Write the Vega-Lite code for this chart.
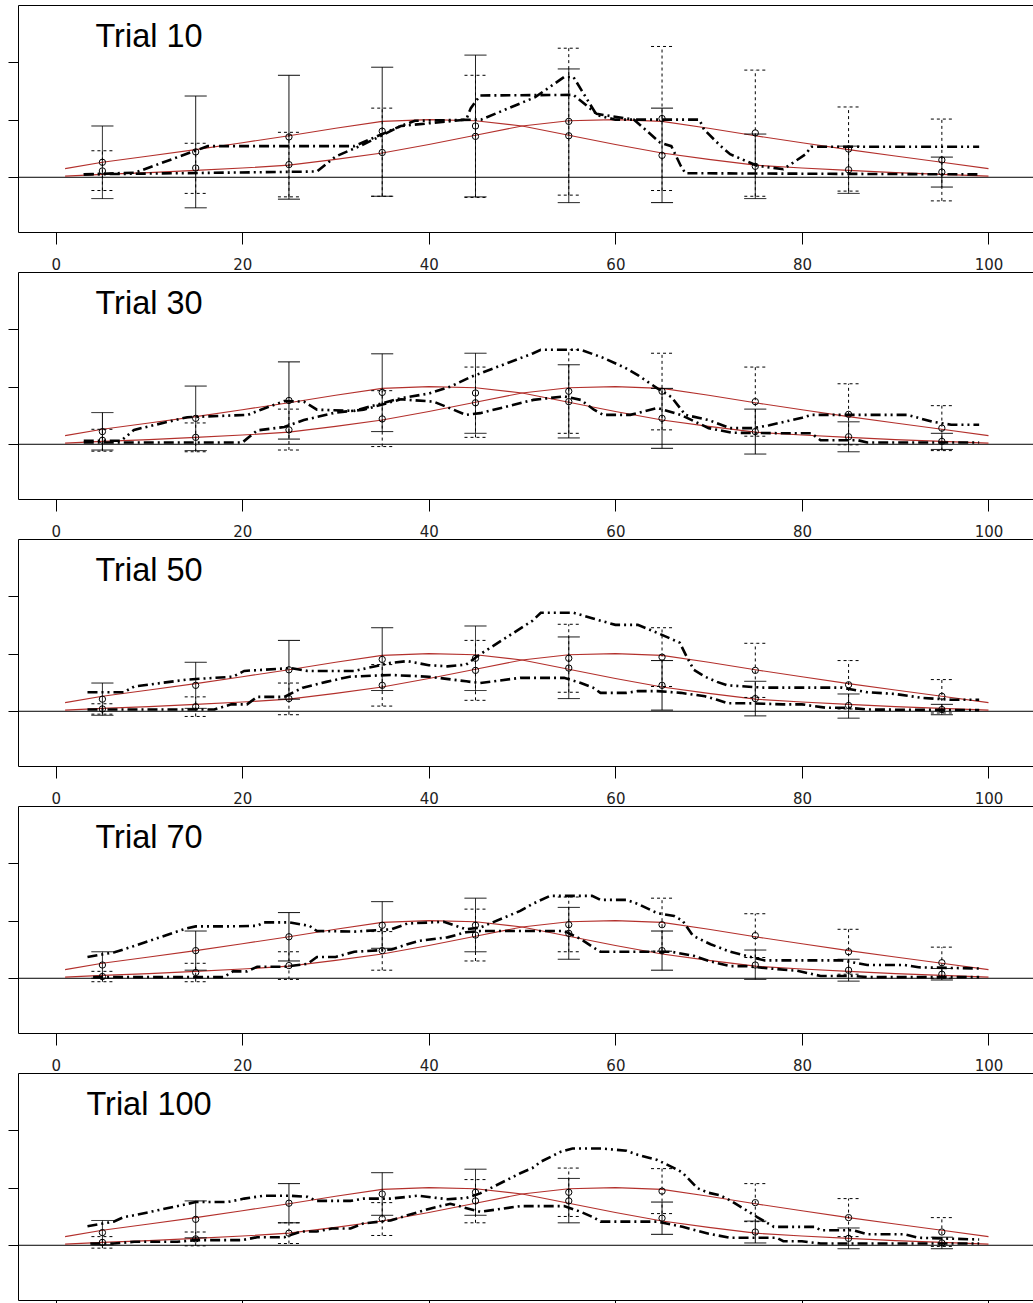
{
  "$schema": "https://vega.github.io/schema/vega-lite/v6.json",
  "padding": {"left": 7, "top": 5, "right": 0, "bottom": 0},
  "background": "white",
  "config": {"view": {"stroke": null}},
  "datasets": {
    "pred": [
      {"cond":"A","x":1,"y":0.15},{"cond":"A","x":5,"y":0.26},{"cond":"A","x":10,"y":0.37},{"cond":"A","x":15,"y":0.48},{"cond":"A","x":20,"y":0.60},{"cond":"A","x":25,"y":0.72},{"cond":"A","x":30,"y":0.85},{"cond":"A","x":35,"y":0.97},{"cond":"A","x":40,"y":1.0},{"cond":"A","x":45,"y":0.98},{"cond":"A","x":50,"y":0.89},{"cond":"A","x":55,"y":0.73},{"cond":"A","x":60,"y":0.57},{"cond":"A","x":65,"y":0.42},{"cond":"A","x":70,"y":0.31},{"cond":"A","x":75,"y":0.21},{"cond":"A","x":80,"y":0.16},{"cond":"A","x":85,"y":0.12},{"cond":"A","x":90,"y":0.08},{"cond":"A","x":95,"y":0.05},{"cond":"A","x":100,"y":0.02},
      {"cond":"B","x":1,"y":0.02},{"cond":"B","x":5,"y":0.05},{"cond":"B","x":10,"y":0.08},{"cond":"B","x":15,"y":0.12},{"cond":"B","x":20,"y":0.16},{"cond":"B","x":25,"y":0.21},{"cond":"B","x":30,"y":0.31},{"cond":"B","x":35,"y":0.42},{"cond":"B","x":40,"y":0.57},{"cond":"B","x":45,"y":0.73},{"cond":"B","x":50,"y":0.89},{"cond":"B","x":55,"y":0.98},{"cond":"B","x":60,"y":1.0},{"cond":"B","x":65,"y":0.97},{"cond":"B","x":70,"y":0.85},{"cond":"B","x":75,"y":0.72},{"cond":"B","x":80,"y":0.60},{"cond":"B","x":85,"y":0.48},{"cond":"B","x":90,"y":0.37},{"cond":"B","x":95,"y":0.26},{"cond":"B","x":100,"y":0.15}
    ],
    "obs": [
      {"trial":10,"line":"U","x":3,"y":0.05},{"trial":10,"line":"U","x":28,"y":0.1},{"trial":10,"line":"U","x":30,"y":0.36},{"trial":10,"line":"U","x":33,"y":0.57},{"trial":10,"line":"U","x":37,"y":0.89},{"trial":10,"line":"U","x":38.5,"y":0.98},{"trial":10,"line":"U","x":44.8,"y":1.0},{"trial":10,"line":"U","x":45.6,"y":1.0},{"trial":10,"line":"U","x":51.4,"y":1.39},{"trial":10,"line":"U","x":54.5,"y":1.74},{"trial":10,"line":"U","x":55.5,"y":1.74},{"trial":10,"line":"U","x":58,"y":1.08},{"trial":10,"line":"U","x":60,"y":1.0},{"trial":10,"line":"U","x":69,"y":1.0},{"trial":10,"line":"U","x":69.5,"y":0.83},{"trial":10,"line":"U","x":71.3,"y":0.54},{"trial":10,"line":"U","x":72.3,"y":0.4},{"trial":10,"line":"U","x":75.2,"y":0.2},{"trial":10,"line":"U","x":78,"y":0.14},{"trial":10,"line":"U","x":80.4,"y":0.4},{"trial":10,"line":"U","x":81,"y":0.53},{"trial":10,"line":"U","x":99,"y":0.53},
      {"trial":10,"line":"L","x":3,"y":0.05},{"trial":10,"line":"L","x":8.5,"y":0.08},{"trial":10,"line":"L","x":16.3,"y":0.54},{"trial":10,"line":"L","x":32,"y":0.54},{"trial":10,"line":"L","x":37,"y":0.89},{"trial":10,"line":"L","x":44,"y":1.0},{"trial":10,"line":"L","x":44.5,"y":1.2},{"trial":10,"line":"L","x":45.5,"y":1.42},{"trial":10,"line":"L","x":55.5,"y":1.43},{"trial":10,"line":"L","x":58,"y":1.1},{"trial":10,"line":"L","x":62,"y":1.0},{"trial":10,"line":"L","x":64.8,"y":0.6},{"trial":10,"line":"L","x":66,"y":0.54},{"trial":10,"line":"L","x":67,"y":0.2},{"trial":10,"line":"L","x":67.5,"y":0.07},{"trial":10,"line":"L","x":99,"y":0.05},
      {"trial":30,"line":"U","x":3,"y":0.06},{"trial":30,"line":"U","x":7,"y":0.06},{"trial":30,"line":"U","x":8.4,"y":0.25},{"trial":30,"line":"U","x":14.1,"y":0.47},{"trial":30,"line":"U","x":20.6,"y":0.51},{"trial":30,"line":"U","x":22,"y":0.6},{"trial":30,"line":"U","x":24.5,"y":0.75},{"trial":30,"line":"U","x":26.6,"y":0.74},{"trial":30,"line":"U","x":28,"y":0.6},{"trial":30,"line":"U","x":32,"y":0.58},{"trial":30,"line":"U","x":37,"y":0.8},{"trial":30,"line":"U","x":40,"y":0.88},{"trial":30,"line":"U","x":42.3,"y":1.0},{"trial":30,"line":"U","x":44.5,"y":1.17},{"trial":30,"line":"U","x":45.5,"y":1.23},{"trial":30,"line":"U","x":51.2,"y":1.58},{"trial":30,"line":"U","x":52,"y":1.64},{"trial":30,"line":"U","x":56.3,"y":1.64},{"trial":30,"line":"U","x":58.7,"y":1.5},{"trial":30,"line":"U","x":61,"y":1.33},{"trial":30,"line":"U","x":62.4,"y":1.2},{"trial":30,"line":"U","x":64.5,"y":0.97},{"trial":30,"line":"U","x":66,"y":0.82},{"trial":30,"line":"U","x":67.5,"y":0.51},{"trial":30,"line":"U","x":70,"y":0.42},{"trial":30,"line":"U","x":72.3,"y":0.28},{"trial":30,"line":"U","x":74.8,"y":0.28},{"trial":30,"line":"U","x":76.5,"y":0.33},{"trial":30,"line":"U","x":80,"y":0.46},{"trial":30,"line":"U","x":81,"y":0.51},{"trial":30,"line":"U","x":91.3,"y":0.51},{"trial":30,"line":"U","x":94,"y":0.39},{"trial":30,"line":"U","x":96,"y":0.34},{"trial":30,"line":"U","x":99,"y":0.34},
      {"trial":30,"line":"L","x":3,"y":0.03},{"trial":30,"line":"L","x":20,"y":0.03},{"trial":30,"line":"L","x":21.6,"y":0.24},{"trial":30,"line":"L","x":24.5,"y":0.3},{"trial":30,"line":"L","x":26.6,"y":0.42},{"trial":30,"line":"L","x":30,"y":0.55},{"trial":30,"line":"L","x":33,"y":0.6},{"trial":30,"line":"L","x":37,"y":0.78},{"trial":30,"line":"L","x":40.5,"y":0.74},{"trial":30,"line":"L","x":44,"y":0.51},{"trial":30,"line":"L","x":45.5,"y":0.54},{"trial":30,"line":"L","x":51.2,"y":0.77},{"trial":30,"line":"L","x":54.5,"y":0.83},{"trial":30,"line":"L","x":56.3,"y":0.77},{"trial":30,"line":"L","x":57.7,"y":0.6},{"trial":30,"line":"L","x":58.7,"y":0.51},{"trial":30,"line":"L","x":61.6,"y":0.51},{"trial":30,"line":"L","x":64.5,"y":0.63},{"trial":30,"line":"L","x":67,"y":0.51},{"trial":30,"line":"L","x":70,"y":0.28},{"trial":30,"line":"L","x":72.5,"y":0.2},{"trial":30,"line":"L","x":78.8,"y":0.19},{"trial":30,"line":"L","x":81,"y":0.19},{"trial":30,"line":"L","x":82,"y":0.07},{"trial":30,"line":"L","x":86,"y":0.07},{"trial":30,"line":"L","x":87,"y":0.03},{"trial":30,"line":"L","x":99,"y":0.03},
      {"trial":50,"line":"U","x":3.4,"y":0.33},{"trial":50,"line":"U","x":7.3,"y":0.33},{"trial":50,"line":"U","x":8.4,"y":0.43},{"trial":50,"line":"U","x":14.1,"y":0.55},{"trial":50,"line":"U","x":19,"y":0.6},{"trial":50,"line":"U","x":20.2,"y":0.7},{"trial":50,"line":"U","x":25.2,"y":0.75},{"trial":50,"line":"U","x":27,"y":0.7},{"trial":50,"line":"U","x":32,"y":0.7},{"trial":50,"line":"U","x":35.9,"y":0.84},{"trial":50,"line":"U","x":37.7,"y":0.87},{"trial":50,"line":"U","x":40,"y":0.8},{"trial":50,"line":"U","x":42,"y":0.78},{"trial":50,"line":"U","x":44,"y":0.81},{"trial":50,"line":"U","x":45.5,"y":0.99},{"trial":50,"line":"U","x":51.1,"y":1.57},{"trial":50,"line":"U","x":52,"y":1.71},{"trial":50,"line":"U","x":55.5,"y":1.71},{"trial":50,"line":"U","x":57.6,"y":1.61},{"trial":50,"line":"U","x":60,"y":1.5},{"trial":50,"line":"U","x":62.4,"y":1.5},{"trial":50,"line":"U","x":64.5,"y":1.36},{"trial":50,"line":"U","x":66.9,"y":1.19},{"trial":50,"line":"U","x":67.6,"y":0.96},{"trial":50,"line":"U","x":68.4,"y":0.72},{"trial":50,"line":"U","x":69.6,"y":0.6},{"trial":50,"line":"U","x":70.9,"y":0.51},{"trial":50,"line":"U","x":72,"y":0.45},{"trial":50,"line":"U","x":75.9,"y":0.41},{"trial":50,"line":"U","x":84.3,"y":0.41},{"trial":50,"line":"U","x":87,"y":0.33},{"trial":50,"line":"U","x":90,"y":0.3},{"trial":50,"line":"U","x":93,"y":0.23},{"trial":50,"line":"U","x":96,"y":0.2},{"trial":50,"line":"U","x":99,"y":0.2},
      {"trial":50,"line":"L","x":3.4,"y":0.03},{"trial":50,"line":"L","x":17,"y":0.03},{"trial":50,"line":"L","x":18.8,"y":0.12},{"trial":50,"line":"L","x":20.5,"y":0.12},{"trial":50,"line":"L","x":21.6,"y":0.25},{"trial":50,"line":"L","x":24.5,"y":0.25},{"trial":50,"line":"L","x":26.5,"y":0.41},{"trial":50,"line":"L","x":29,"y":0.51},{"trial":50,"line":"L","x":31.5,"y":0.6},{"trial":50,"line":"L","x":35.9,"y":0.63},{"trial":50,"line":"L","x":40,"y":0.6},{"trial":50,"line":"L","x":44,"y":0.52},{"trial":50,"line":"L","x":45.5,"y":0.49},{"trial":50,"line":"L","x":49.8,"y":0.58},{"trial":50,"line":"L","x":54.5,"y":0.58},{"trial":50,"line":"L","x":56.3,"y":0.49},{"trial":50,"line":"L","x":57.6,"y":0.41},{"trial":50,"line":"L","x":58.4,"y":0.32},{"trial":50,"line":"L","x":61.2,"y":0.32},{"trial":50,"line":"L","x":62.4,"y":0.35},{"trial":50,"line":"L","x":64.5,"y":0.35},{"trial":50,"line":"L","x":67,"y":0.32},{"trial":50,"line":"L","x":69.6,"y":0.26},{"trial":50,"line":"L","x":70.9,"y":0.2},{"trial":50,"line":"L","x":72,"y":0.14},{"trial":50,"line":"L","x":74,"y":0.14},{"trial":50,"line":"L","x":78,"y":0.12},{"trial":50,"line":"L","x":80,"y":0.12},{"trial":50,"line":"L","x":82.6,"y":0.06},{"trial":50,"line":"L","x":85,"y":0.06},{"trial":50,"line":"L","x":87,"y":0.03},{"trial":50,"line":"L","x":99,"y":0.02},
      {"trial":70,"line":"U","x":3.4,"y":0.37},{"trial":70,"line":"U","x":6.3,"y":0.45},{"trial":70,"line":"U","x":8.4,"y":0.56},{"trial":70,"line":"U","x":13.9,"y":0.86},{"trial":70,"line":"U","x":15,"y":0.9},{"trial":70,"line":"U","x":18.4,"y":0.9},{"trial":70,"line":"U","x":21.6,"y":0.91},{"trial":70,"line":"U","x":22.3,"y":0.97},{"trial":70,"line":"U","x":25,"y":0.97},{"trial":70,"line":"U","x":27.2,"y":0.91},{"trial":70,"line":"U","x":28,"y":0.82},{"trial":70,"line":"U","x":32,"y":0.81},{"trial":70,"line":"U","x":36,"y":0.85},{"trial":70,"line":"U","x":37.7,"y":0.95},{"trial":70,"line":"U","x":41.6,"y":0.98},{"trial":70,"line":"U","x":44,"y":0.85},{"trial":70,"line":"U","x":45.5,"y":0.88},{"trial":70,"line":"U","x":49.8,"y":1.17},{"trial":70,"line":"U","x":51.1,"y":1.29},{"trial":70,"line":"U","x":53,"y":1.43},{"trial":70,"line":"U","x":57.5,"y":1.43},{"trial":70,"line":"U","x":58.4,"y":1.36},{"trial":70,"line":"U","x":61.2,"y":1.36},{"trial":70,"line":"U","x":62.4,"y":1.29},{"trial":70,"line":"U","x":64.5,"y":1.13},{"trial":70,"line":"U","x":66.3,"y":1.08},{"trial":70,"line":"U","x":67.2,"y":1.0},{"trial":70,"line":"U","x":68.3,"y":0.74},{"trial":70,"line":"U","x":70.2,"y":0.59},{"trial":70,"line":"U","x":71.2,"y":0.53},{"trial":70,"line":"U","x":72.3,"y":0.46},{"trial":70,"line":"U","x":74,"y":0.39},{"trial":70,"line":"U","x":76,"y":0.31},{"trial":70,"line":"U","x":84.3,"y":0.31},{"trial":70,"line":"U","x":87,"y":0.23},{"trial":70,"line":"U","x":91,"y":0.23},{"trial":70,"line":"U","x":92.5,"y":0.19},{"trial":70,"line":"U","x":99,"y":0.17},
      {"trial":70,"line":"L","x":4,"y":0.02},{"trial":70,"line":"L","x":18,"y":0.02},{"trial":70,"line":"L","x":19,"y":0.12},{"trial":70,"line":"L","x":20.5,"y":0.12},{"trial":70,"line":"L","x":21.6,"y":0.2},{"trial":70,"line":"L","x":24.5,"y":0.2},{"trial":70,"line":"L","x":27,"y":0.25},{"trial":70,"line":"L","x":28,"y":0.37},{"trial":70,"line":"L","x":30,"y":0.37},{"trial":70,"line":"L","x":32,"y":0.46},{"trial":70,"line":"L","x":36,"y":0.5},{"trial":70,"line":"L","x":37.7,"y":0.59},{"trial":70,"line":"L","x":39,"y":0.65},{"trial":70,"line":"L","x":42,"y":0.71},{"trial":70,"line":"L","x":44,"y":0.8},{"trial":70,"line":"L","x":45.5,"y":0.82},{"trial":70,"line":"L","x":54.5,"y":0.82},{"trial":70,"line":"L","x":56.3,"y":0.68},{"trial":70,"line":"L","x":57.7,"y":0.53},{"trial":70,"line":"L","x":58.4,"y":0.46},{"trial":70,"line":"L","x":66,"y":0.46},{"trial":70,"line":"L","x":68.4,"y":0.39},{"trial":70,"line":"L","x":70,"y":0.3},{"trial":70,"line":"L","x":72.3,"y":0.21},{"trial":70,"line":"L","x":74,"y":0.21},{"trial":70,"line":"L","x":76.5,"y":0.17},{"trial":70,"line":"L","x":79.5,"y":0.13},{"trial":70,"line":"L","x":82,"y":0.04},{"trial":70,"line":"L","x":85.5,"y":0.04},{"trial":70,"line":"L","x":87,"y":0.02},{"trial":70,"line":"L","x":99,"y":0.02},
      {"trial":100,"line":"U","x":3.4,"y":0.33},{"trial":100,"line":"U","x":6.2,"y":0.41},{"trial":100,"line":"U","x":7.3,"y":0.49},{"trial":100,"line":"U","x":8.4,"y":0.52},{"trial":100,"line":"U","x":13.9,"y":0.71},{"trial":100,"line":"U","x":15,"y":0.75},{"trial":100,"line":"U","x":18.4,"y":0.75},{"trial":100,"line":"U","x":20.2,"y":0.81},{"trial":100,"line":"U","x":22.3,"y":0.86},{"trial":100,"line":"U","x":25,"y":0.86},{"trial":100,"line":"U","x":27,"y":0.84},{"trial":100,"line":"U","x":28,"y":0.77},{"trial":100,"line":"U","x":31.6,"y":0.77},{"trial":100,"line":"U","x":33,"y":0.81},{"trial":100,"line":"U","x":35.9,"y":0.81},{"trial":100,"line":"U","x":38.8,"y":0.86},{"trial":100,"line":"U","x":42,"y":0.8},{"trial":100,"line":"U","x":44,"y":0.82},{"trial":100,"line":"U","x":45.5,"y":0.9},{"trial":100,"line":"U","x":49.8,"y":1.25},{"trial":100,"line":"U","x":51.1,"y":1.34},{"trial":100,"line":"U","x":52,"y":1.45},{"trial":100,"line":"U","x":54.1,"y":1.62},{"trial":100,"line":"U","x":55.4,"y":1.68},{"trial":100,"line":"U","x":58.5,"y":1.68},{"trial":100,"line":"U","x":61.2,"y":1.64},{"trial":100,"line":"U","x":62.4,"y":1.57},{"trial":100,"line":"U","x":64.5,"y":1.48},{"trial":100,"line":"U","x":66.3,"y":1.34},{"trial":100,"line":"U","x":67.2,"y":1.26},{"trial":100,"line":"U","x":68.8,"y":0.99},{"trial":100,"line":"U","x":70,"y":0.91},{"trial":100,"line":"U","x":71.2,"y":0.87},{"trial":100,"line":"U","x":72.3,"y":0.78},{"trial":100,"line":"U","x":75.2,"y":0.49},{"trial":100,"line":"U","x":77,"y":0.32},{"trial":100,"line":"U","x":81.4,"y":0.32},{"trial":100,"line":"U","x":82,"y":0.26},{"trial":100,"line":"U","x":85.5,"y":0.26},{"trial":100,"line":"U","x":87,"y":0.19},{"trial":100,"line":"U","x":91,"y":0.19},{"trial":100,"line":"U","x":92.5,"y":0.13},{"trial":100,"line":"U","x":99,"y":0.1},
      {"trial":100,"line":"L","x":3.7,"y":0.03},{"trial":100,"line":"L","x":6.2,"y":0.03},{"trial":100,"line":"L","x":8.4,"y":0.06},{"trial":100,"line":"L","x":13,"y":0.06},{"trial":100,"line":"L","x":15,"y":0.09},{"trial":100,"line":"L","x":20,"y":0.09},{"trial":100,"line":"L","x":21.6,"y":0.14},{"trial":100,"line":"L","x":24.5,"y":0.14},{"trial":100,"line":"L","x":26.3,"y":0.24},{"trial":100,"line":"L","x":28,"y":0.24},{"trial":100,"line":"L","x":29.6,"y":0.29},{"trial":100,"line":"L","x":31.6,"y":0.29},{"trial":100,"line":"L","x":33,"y":0.38},{"trial":100,"line":"L","x":35.9,"y":0.43},{"trial":100,"line":"L","x":37.7,"y":0.52},{"trial":100,"line":"L","x":40.2,"y":0.64},{"trial":100,"line":"L","x":42.3,"y":0.72},{"trial":100,"line":"L","x":45.5,"y":0.58},{"trial":100,"line":"L","x":49.8,"y":0.68},{"trial":100,"line":"L","x":54.5,"y":0.68},{"trial":100,"line":"L","x":56.3,"y":0.58},{"trial":100,"line":"L","x":57.7,"y":0.48},{"trial":100,"line":"L","x":58.4,"y":0.41},{"trial":100,"line":"L","x":64.5,"y":0.41},{"trial":100,"line":"L","x":67.2,"y":0.32},{"trial":100,"line":"L","x":70,"y":0.2},{"trial":100,"line":"L","x":72.3,"y":0.13},{"trial":100,"line":"L","x":77.3,"y":0.13},{"trial":100,"line":"L","x":78,"y":0.07},{"trial":100,"line":"L","x":80,"y":0.07},{"trial":100,"line":"L","x":82,"y":0.03},{"trial":100,"line":"L","x":99,"y":0.03}
    ],
    "bars": [
      {"trial":10,"cond":"A","x":5,"mean":0.26,"lo":-0.37,"hi":0.89},{"trial":10,"cond":"A","x":15,"mean":0.44,"lo":-0.53,"hi":1.41},{"trial":10,"cond":"A","x":25,"mean":0.70,"lo":-0.38,"hi":1.77},{"trial":10,"cond":"A","x":35,"mean":0.80,"lo":-0.33,"hi":1.91},{"trial":10,"cond":"A","x":45,"mean":0.89,"lo":-0.34,"hi":2.12},{"trial":10,"cond":"A","x":55,"mean":0.72,"lo":-0.44,"hi":1.88},{"trial":10,"cond":"A","x":65,"mean":0.38,"lo":-0.44,"hi":1.20},{"trial":10,"cond":"A","x":75,"mean":0.19,"lo":-0.37,"hi":0.75},{"trial":10,"cond":"A","x":85,"mean":0.13,"lo":-0.28,"hi":0.54},{"trial":10,"cond":"A","x":95,"mean":0.09,"lo":-0.17,"hi":0.35},
      {"trial":10,"cond":"B","x":5,"mean":0.11,"lo":-0.23,"hi":0.46},{"trial":10,"cond":"B","x":15,"mean":0.16,"lo":-0.28,"hi":0.59},{"trial":10,"cond":"B","x":25,"mean":0.22,"lo":-0.34,"hi":0.78},{"trial":10,"cond":"B","x":35,"mean":0.43,"lo":-0.33,"hi":1.20},{"trial":10,"cond":"B","x":45,"mean":0.71,"lo":-0.35,"hi":1.77},{"trial":10,"cond":"B","x":55,"mean":0.97,"lo":-0.31,"hi":2.24},{"trial":10,"cond":"B","x":65,"mean":1.02,"lo":-0.23,"hi":2.27},{"trial":10,"cond":"B","x":75,"mean":0.77,"lo":-0.33,"hi":1.86},{"trial":10,"cond":"B","x":85,"mean":0.49,"lo":-0.24,"hi":1.22},{"trial":10,"cond":"B","x":95,"mean":0.30,"lo":-0.41,"hi":1.01},
      {"trial":30,"cond":"A","x":5,"mean":0.22,"lo":-0.10,"hi":0.55},{"trial":30,"cond":"A","x":15,"mean":0.45,"lo":-0.11,"hi":1.01},{"trial":30,"cond":"A","x":25,"mean":0.76,"lo":0.09,"hi":1.43},{"trial":30,"cond":"A","x":35,"mean":0.90,"lo":0.22,"hi":1.57},{"trial":30,"cond":"A","x":45,"mean":0.89,"lo":0.19,"hi":1.58},{"trial":30,"cond":"A","x":55,"mean":0.74,"lo":0.11,"hi":1.38},{"trial":30,"cond":"A","x":65,"mean":0.45,"lo":-0.07,"hi":0.97},{"trial":30,"cond":"A","x":75,"mean":0.22,"lo":-0.17,"hi":0.61},{"trial":30,"cond":"A","x":85,"mean":0.13,"lo":-0.13,"hi":0.39},{"trial":30,"cond":"A","x":95,"mean":0.05,"lo":-0.09,"hi":0.19},
      {"trial":30,"cond":"B","x":5,"mean":0.07,"lo":-0.12,"hi":0.26},{"trial":30,"cond":"B","x":15,"mean":0.12,"lo":-0.13,"hi":0.37},{"trial":30,"cond":"B","x":25,"mean":0.25,"lo":-0.10,"hi":0.61},{"trial":30,"cond":"B","x":35,"mean":0.44,"lo":-0.04,"hi":0.93},{"trial":30,"cond":"B","x":45,"mean":0.72,"lo":0.12,"hi":1.34},{"trial":30,"cond":"B","x":55,"mean":0.92,"lo":0.19,"hi":1.64},{"trial":30,"cond":"B","x":65,"mean":0.92,"lo":0.25,"hi":1.58},{"trial":30,"cond":"B","x":75,"mean":0.74,"lo":0.14,"hi":1.34},{"trial":30,"cond":"B","x":85,"mean":0.52,"lo":-0.01,"hi":1.05},{"trial":30,"cond":"B","x":95,"mean":0.28,"lo":-0.11,"hi":0.67},
      {"trial":50,"cond":"A","x":5,"mean":0.21,"lo":-0.07,"hi":0.49},{"trial":50,"cond":"A","x":15,"mean":0.45,"lo":0.05,"hi":0.85},{"trial":50,"cond":"A","x":25,"mean":0.72,"lo":0.21,"hi":1.23},{"trial":50,"cond":"A","x":35,"mean":0.90,"lo":0.36,"hi":1.45},{"trial":50,"cond":"A","x":45,"mean":0.92,"lo":0.36,"hi":1.48},{"trial":50,"cond":"A","x":55,"mean":0.75,"lo":0.22,"hi":1.29},{"trial":50,"cond":"A","x":65,"mean":0.45,"lo":0.02,"hi":0.88},{"trial":50,"cond":"A","x":75,"mean":0.22,"lo":-0.08,"hi":0.52},{"trial":50,"cond":"A","x":85,"mean":0.10,"lo":-0.12,"hi":0.30},{"trial":50,"cond":"A","x":95,"mean":0.03,"lo":-0.06,"hi":0.12},
      {"trial":50,"cond":"B","x":5,"mean":0.04,"lo":-0.05,"hi":0.13},{"trial":50,"cond":"B","x":15,"mean":0.08,"lo":-0.09,"hi":0.25},{"trial":50,"cond":"B","x":25,"mean":0.22,"lo":-0.06,"hi":0.49},{"trial":50,"cond":"B","x":35,"mean":0.45,"lo":0.09,"hi":0.81},{"trial":50,"cond":"B","x":45,"mean":0.71,"lo":0.19,"hi":1.23},{"trial":50,"cond":"B","x":55,"mean":0.92,"lo":0.33,"hi":1.51},{"trial":50,"cond":"B","x":65,"mean":0.94,"lo":0.43,"hi":1.45},{"trial":50,"cond":"B","x":75,"mean":0.71,"lo":0.24,"hi":1.18},{"trial":50,"cond":"B","x":85,"mean":0.46,"lo":0.04,"hi":0.88},{"trial":50,"cond":"B","x":95,"mean":0.26,"lo":-0.03,"hi":0.55},
      {"trial":70,"cond":"A","x":5,"mean":0.23,"lo":0.0,"hi":0.46},{"trial":70,"cond":"A","x":15,"mean":0.48,"lo":0.14,"hi":0.82},{"trial":70,"cond":"A","x":25,"mean":0.72,"lo":0.30,"hi":1.14},{"trial":70,"cond":"A","x":35,"mean":0.92,"lo":0.52,"hi":1.33},{"trial":70,"cond":"A","x":45,"mean":0.92,"lo":0.46,"hi":1.39},{"trial":70,"cond":"A","x":55,"mean":0.78,"lo":0.33,"hi":1.23},{"trial":70,"cond":"A","x":65,"mean":0.48,"lo":0.14,"hi":0.82},{"trial":70,"cond":"A","x":75,"mean":0.23,"lo":-0.02,"hi":0.49},{"trial":70,"cond":"A","x":85,"mean":0.14,"lo":-0.05,"hi":0.33},{"trial":70,"cond":"A","x":95,"mean":0.07,"lo":-0.03,"hi":0.17},
      {"trial":70,"cond":"B","x":5,"mean":0.03,"lo":-0.06,"hi":0.12},{"trial":70,"cond":"B","x":15,"mean":0.10,"lo":-0.06,"hi":0.26},{"trial":70,"cond":"B","x":25,"mean":0.22,"lo":-0.02,"hi":0.46},{"trial":70,"cond":"B","x":35,"mean":0.48,"lo":0.14,"hi":0.81},{"trial":70,"cond":"B","x":45,"mean":0.75,"lo":0.30,"hi":1.20},{"trial":70,"cond":"B","x":55,"mean":0.93,"lo":0.46,"hi":1.41},{"trial":70,"cond":"B","x":65,"mean":0.93,"lo":0.47,"hi":1.39},{"trial":70,"cond":"B","x":75,"mean":0.74,"lo":0.36,"hi":1.12},{"trial":70,"cond":"B","x":85,"mean":0.46,"lo":0.07,"hi":0.85},{"trial":70,"cond":"B","x":95,"mean":0.27,"lo":0.0,"hi":0.54},
      {"trial":100,"cond":"A","x":5,"mean":0.22,"lo":0.01,"hi":0.43},{"trial":100,"cond":"A","x":15,"mean":0.45,"lo":0.13,"hi":0.77},{"trial":100,"cond":"A","x":25,"mean":0.73,"lo":0.39,"hi":1.07},{"trial":100,"cond":"A","x":35,"mean":0.89,"lo":0.52,"hi":1.26},{"trial":100,"cond":"A","x":45,"mean":0.92,"lo":0.52,"hi":1.32},{"trial":100,"cond":"A","x":55,"mean":0.77,"lo":0.39,"hi":1.16},{"trial":100,"cond":"A","x":65,"mean":0.47,"lo":0.19,"hi":0.75},{"trial":100,"cond":"A","x":75,"mean":0.23,"lo":0.04,"hi":0.42},{"trial":100,"cond":"A","x":85,"mean":0.12,"lo":-0.06,"hi":0.30},{"trial":100,"cond":"A","x":95,"mean":0.04,"lo":-0.06,"hi":0.14},
      {"trial":100,"cond":"B","x":5,"mean":0.05,"lo":-0.05,"hi":0.15},{"trial":100,"cond":"B","x":15,"mean":0.11,"lo":-0.01,"hi":0.23},{"trial":100,"cond":"B","x":25,"mean":0.21,"lo":0.03,"hi":0.39},{"trial":100,"cond":"B","x":35,"mean":0.46,"lo":0.17,"hi":0.74},{"trial":100,"cond":"B","x":45,"mean":0.77,"lo":0.39,"hi":1.14},{"trial":100,"cond":"B","x":55,"mean":0.92,"lo":0.50,"hi":1.34},{"trial":100,"cond":"B","x":65,"mean":0.94,"lo":0.55,"hi":1.33},{"trial":100,"cond":"B","x":75,"mean":0.74,"lo":0.41,"hi":1.07},{"trial":100,"cond":"B","x":85,"mean":0.48,"lo":0.15,"hi":0.81},{"trial":100,"cond":"B","x":95,"mean":0.23,"lo":-0.02,"hi":0.48}
    ]
  },
  "vconcat": [
    {
      "width": 1016, "height": 227,
      "resolve": {"axis": {"x": "independent"}, "scale": {"strokeDash": "independent"}},
      "layer": [
        {"data": {"values": [{}]},
         "mark": {"type": "rule", "color": "black", "strokeWidth": 1},
         "encoding": {"y": {"datum": 0, "type": "quantitative", "scale": {"domain": [-0.95, 2.99]},
           "axis": {"values": [0, 1, 2], "tickSize": 10, "labels": false, "domain": true, "domainColor": "black", "tickColor": "black", "grid": false, "title": null}}}},
        {"data": {"name": "pred"},
         "mark": {"type": "line", "color": "#b3302c", "strokeWidth": 1.1},
         "encoding": {
           "x": {"field": "x", "type": "quantitative", "scale": {"domain": [-4.05, 104.88], "nice": false, "zero": false},
             "axis": {"orient": "bottom", "values": [0, 20, 40, 60, 80, 100], "tickSize": 12, "labelPadding": 13, "labelFont": "DejaVu Sans", "labelFontSize": 15, "labelColor": "#222", "labelFlush": false, "labelOverlap": false, "domain": true, "domainColor": "black", "tickColor": "black", "grid": false, "title": null}},
           "y": {"field": "y", "type": "quantitative", "scale": {"domain": [-0.95, 2.99]},
             "axis": {"values": [0, 1, 2], "tickSize": 10, "labels": false, "domain": true, "domainColor": "black", "tickColor": "black", "grid": false, "title": null}},
           "detail": {"field": "cond"}}},
        {"data": {"name": "obs"}, "transform": [{"filter": "datum.trial == 10"}],
         "mark": {"type": "line", "color": "black", "strokeWidth": 2.6},
         "encoding": {
           "x": {"field": "x", "type": "quantitative", "scale": {"domain": [-4.05, 104.88], "nice": false, "zero": false},
             "axis": {"orient": "top", "ticks": false, "labels": false, "domain": true, "domainColor": "black", "grid": false, "title": null}},
           "y": {"field": "y", "type": "quantitative", "scale": {"domain": [-0.95, 2.99]},
             "axis": {"values": [0, 1, 2], "tickSize": 10, "labels": false, "domain": true, "domainColor": "black", "tickColor": "black", "grid": false, "title": null}},
           "strokeDash": {"field": "line", "type": "nominal", "scale": {"domain": ["U", "L"], "range": [[10, 4, 2, 4, 2, 4], [10, 4, 2, 4]]}, "legend": null}}},
        {"data": {"name": "bars"}, "transform": [{"filter": "datum.trial == 10"}],
         "layer": [
           {"mark": {"type": "rule", "color": "black", "strokeWidth": 1},
            "encoding": {"y": {"field": "lo"}, "y2": {"field": "hi"}}},
           {"mark": {"type": "point", "shape": "stroke", "size": 484, "color": "black", "strokeWidth": 1, "filled": false, "opacity": 1},
            "encoding": {"y": {"field": "lo"}}},
           {"mark": {"type": "point", "shape": "stroke", "size": 484, "color": "black", "strokeWidth": 1, "filled": false, "opacity": 1},
            "encoding": {"y": {"field": "hi"}}}
         ],
         "encoding": {
           "x": {"field": "x", "type": "quantitative", "scale": {"domain": [-4.05, 104.88], "nice": false, "zero": false}, "axis": null},
           "y": {"type": "quantitative", "scale": {"domain": [-0.95, 2.99]},
             "axis": {"values": [0, 1, 2], "tickSize": 10, "labels": false, "domain": true, "domainColor": "black", "tickColor": "black", "grid": false, "title": null}},
           "strokeDash": {"field": "cond", "type": "nominal", "scale": {"domain": ["A", "B"], "range": [[1, 0], [3, 3]]}, "legend": null}}},
        {"data": {"name": "bars"}, "transform": [{"filter": "datum.trial == 10"}],
         "mark": {"type": "point", "size": 40, "color": "black", "strokeWidth": 1, "filled": false, "opacity": 1},
         "encoding": {
           "x": {"field": "x", "type": "quantitative", "scale": {"domain": [-4.05, 104.88], "nice": false, "zero": false}, "axis": null},
           "y": {"field": "mean", "type": "quantitative", "scale": {"domain": [-0.95, 2.99]},
             "axis": {"values": [0, 1, 2], "tickSize": 10, "labels": false, "domain": true, "domainColor": "black", "tickColor": "black", "grid": false, "title": null}}}},
        {"data": {"values": [{}]},
         "mark": {"type": "text", "font": "Liberation Sans", "fontSize": 32.5, "align": "center", "baseline": "alphabetic", "color": "black"},
         "encoding": {
           "x": {"datum": 10, "type": "quantitative", "scale": {"domain": [-4.05, 104.88], "nice": false, "zero": false}, "axis": null},
           "y": {"datum": 2.26, "type": "quantitative", "scale": {"domain": [-0.95, 2.99]},
             "axis": {"values": [0, 1, 2], "tickSize": 10, "labels": false, "domain": true, "domainColor": "black", "tickColor": "black", "grid": false, "title": null}},
           "text": {"value": "Trial 10"}}}
      ]
    },
    {
      "width": 1016, "height": 227,
      "resolve": {"axis": {"x": "independent"}, "scale": {"strokeDash": "independent"}},
      "layer": [
        {"data": {"values": [{}]},
         "mark": {"type": "rule", "color": "black", "strokeWidth": 1},
         "encoding": {"y": {"datum": 0, "type": "quantitative", "scale": {"domain": [-0.95, 2.99]},
           "axis": {"values": [0, 1, 2], "tickSize": 10, "labels": false, "domain": true, "domainColor": "black", "tickColor": "black", "grid": false, "title": null}}}},
        {"data": {"name": "pred"},
         "mark": {"type": "line", "color": "#b3302c", "strokeWidth": 1.1},
         "encoding": {
           "x": {"field": "x", "type": "quantitative", "scale": {"domain": [-4.05, 104.88], "nice": false, "zero": false},
             "axis": {"orient": "bottom", "values": [0, 20, 40, 60, 80, 100], "tickSize": 12, "labelPadding": 13, "labelFont": "DejaVu Sans", "labelFontSize": 15, "labelColor": "#222", "labelFlush": false, "labelOverlap": false, "domain": true, "domainColor": "black", "tickColor": "black", "grid": false, "title": null}},
           "y": {"field": "y", "type": "quantitative", "scale": {"domain": [-0.95, 2.99]},
             "axis": {"values": [0, 1, 2], "tickSize": 10, "labels": false, "domain": true, "domainColor": "black", "tickColor": "black", "grid": false, "title": null}},
           "detail": {"field": "cond"}}},
        {"data": {"name": "obs"}, "transform": [{"filter": "datum.trial == 30"}],
         "mark": {"type": "line", "color": "black", "strokeWidth": 2.6},
         "encoding": {
           "x": {"field": "x", "type": "quantitative", "scale": {"domain": [-4.05, 104.88], "nice": false, "zero": false},
             "axis": {"orient": "top", "ticks": false, "labels": false, "domain": true, "domainColor": "black", "grid": false, "title": null}},
           "y": {"field": "y", "type": "quantitative", "scale": {"domain": [-0.95, 2.99]},
             "axis": {"values": [0, 1, 2], "tickSize": 10, "labels": false, "domain": true, "domainColor": "black", "tickColor": "black", "grid": false, "title": null}},
           "strokeDash": {"field": "line", "type": "nominal", "scale": {"domain": ["U", "L"], "range": [[10, 4, 2, 4, 2, 4], [10, 4, 2, 4]]}, "legend": null}}},
        {"data": {"name": "bars"}, "transform": [{"filter": "datum.trial == 30"}],
         "layer": [
           {"mark": {"type": "rule", "color": "black", "strokeWidth": 1},
            "encoding": {"y": {"field": "lo"}, "y2": {"field": "hi"}}},
           {"mark": {"type": "point", "shape": "stroke", "size": 484, "color": "black", "strokeWidth": 1, "filled": false, "opacity": 1},
            "encoding": {"y": {"field": "lo"}}},
           {"mark": {"type": "point", "shape": "stroke", "size": 484, "color": "black", "strokeWidth": 1, "filled": false, "opacity": 1},
            "encoding": {"y": {"field": "hi"}}}
         ],
         "encoding": {
           "x": {"field": "x", "type": "quantitative", "scale": {"domain": [-4.05, 104.88], "nice": false, "zero": false}, "axis": null},
           "y": {"type": "quantitative", "scale": {"domain": [-0.95, 2.99]},
             "axis": {"values": [0, 1, 2], "tickSize": 10, "labels": false, "domain": true, "domainColor": "black", "tickColor": "black", "grid": false, "title": null}},
           "strokeDash": {"field": "cond", "type": "nominal", "scale": {"domain": ["A", "B"], "range": [[1, 0], [3, 3]]}, "legend": null}}},
        {"data": {"name": "bars"}, "transform": [{"filter": "datum.trial == 30"}],
         "mark": {"type": "point", "size": 40, "color": "black", "strokeWidth": 1, "filled": false, "opacity": 1},
         "encoding": {
           "x": {"field": "x", "type": "quantitative", "scale": {"domain": [-4.05, 104.88], "nice": false, "zero": false}, "axis": null},
           "y": {"field": "mean", "type": "quantitative", "scale": {"domain": [-0.95, 2.99]},
             "axis": {"values": [0, 1, 2], "tickSize": 10, "labels": false, "domain": true, "domainColor": "black", "tickColor": "black", "grid": false, "title": null}}}},
        {"data": {"values": [{}]},
         "mark": {"type": "text", "font": "Liberation Sans", "fontSize": 32.5, "align": "center", "baseline": "alphabetic", "color": "black"},
         "encoding": {
           "x": {"datum": 10, "type": "quantitative", "scale": {"domain": [-4.05, 104.88], "nice": false, "zero": false}, "axis": null},
           "y": {"datum": 2.26, "type": "quantitative", "scale": {"domain": [-0.95, 2.99]},
             "axis": {"values": [0, 1, 2], "tickSize": 10, "labels": false, "domain": true, "domainColor": "black", "tickColor": "black", "grid": false, "title": null}},
           "text": {"value": "Trial 30"}}}
      ]
    },
    {
      "width": 1016, "height": 227,
      "resolve": {"axis": {"x": "independent"}, "scale": {"strokeDash": "independent"}},
      "layer": [
        {"data": {"values": [{}]},
         "mark": {"type": "rule", "color": "black", "strokeWidth": 1},
         "encoding": {"y": {"datum": 0, "type": "quantitative", "scale": {"domain": [-0.95, 2.99]},
           "axis": {"values": [0, 1, 2], "tickSize": 10, "labels": false, "domain": true, "domainColor": "black", "tickColor": "black", "grid": false, "title": null}}}},
        {"data": {"name": "pred"},
         "mark": {"type": "line", "color": "#b3302c", "strokeWidth": 1.1},
         "encoding": {
           "x": {"field": "x", "type": "quantitative", "scale": {"domain": [-4.05, 104.88], "nice": false, "zero": false},
             "axis": {"orient": "bottom", "values": [0, 20, 40, 60, 80, 100], "tickSize": 12, "labelPadding": 13, "labelFont": "DejaVu Sans", "labelFontSize": 15, "labelColor": "#222", "labelFlush": false, "labelOverlap": false, "domain": true, "domainColor": "black", "tickColor": "black", "grid": false, "title": null}},
           "y": {"field": "y", "type": "quantitative", "scale": {"domain": [-0.95, 2.99]},
             "axis": {"values": [0, 1, 2], "tickSize": 10, "labels": false, "domain": true, "domainColor": "black", "tickColor": "black", "grid": false, "title": null}},
           "detail": {"field": "cond"}}},
        {"data": {"name": "obs"}, "transform": [{"filter": "datum.trial == 50"}],
         "mark": {"type": "line", "color": "black", "strokeWidth": 2.6},
         "encoding": {
           "x": {"field": "x", "type": "quantitative", "scale": {"domain": [-4.05, 104.88], "nice": false, "zero": false},
             "axis": {"orient": "top", "ticks": false, "labels": false, "domain": true, "domainColor": "black", "grid": false, "title": null}},
           "y": {"field": "y", "type": "quantitative", "scale": {"domain": [-0.95, 2.99]},
             "axis": {"values": [0, 1, 2], "tickSize": 10, "labels": false, "domain": true, "domainColor": "black", "tickColor": "black", "grid": false, "title": null}},
           "strokeDash": {"field": "line", "type": "nominal", "scale": {"domain": ["U", "L"], "range": [[10, 4, 2, 4, 2, 4], [10, 4, 2, 4]]}, "legend": null}}},
        {"data": {"name": "bars"}, "transform": [{"filter": "datum.trial == 50"}],
         "layer": [
           {"mark": {"type": "rule", "color": "black", "strokeWidth": 1},
            "encoding": {"y": {"field": "lo"}, "y2": {"field": "hi"}}},
           {"mark": {"type": "point", "shape": "stroke", "size": 484, "color": "black", "strokeWidth": 1, "filled": false, "opacity": 1},
            "encoding": {"y": {"field": "lo"}}},
           {"mark": {"type": "point", "shape": "stroke", "size": 484, "color": "black", "strokeWidth": 1, "filled": false, "opacity": 1},
            "encoding": {"y": {"field": "hi"}}}
         ],
         "encoding": {
           "x": {"field": "x", "type": "quantitative", "scale": {"domain": [-4.05, 104.88], "nice": false, "zero": false}, "axis": null},
           "y": {"type": "quantitative", "scale": {"domain": [-0.95, 2.99]},
             "axis": {"values": [0, 1, 2], "tickSize": 10, "labels": false, "domain": true, "domainColor": "black", "tickColor": "black", "grid": false, "title": null}},
           "strokeDash": {"field": "cond", "type": "nominal", "scale": {"domain": ["A", "B"], "range": [[1, 0], [3, 3]]}, "legend": null}}},
        {"data": {"name": "bars"}, "transform": [{"filter": "datum.trial == 50"}],
         "mark": {"type": "point", "size": 40, "color": "black", "strokeWidth": 1, "filled": false, "opacity": 1},
         "encoding": {
           "x": {"field": "x", "type": "quantitative", "scale": {"domain": [-4.05, 104.88], "nice": false, "zero": false}, "axis": null},
           "y": {"field": "mean", "type": "quantitative", "scale": {"domain": [-0.95, 2.99]},
             "axis": {"values": [0, 1, 2], "tickSize": 10, "labels": false, "domain": true, "domainColor": "black", "tickColor": "black", "grid": false, "title": null}}}},
        {"data": {"values": [{}]},
         "mark": {"type": "text", "font": "Liberation Sans", "fontSize": 32.5, "align": "center", "baseline": "alphabetic", "color": "black"},
         "encoding": {
           "x": {"datum": 10, "type": "quantitative", "scale": {"domain": [-4.05, 104.88], "nice": false, "zero": false}, "axis": null},
           "y": {"datum": 2.26, "type": "quantitative", "scale": {"domain": [-0.95, 2.99]},
             "axis": {"values": [0, 1, 2], "tickSize": 10, "labels": false, "domain": true, "domainColor": "black", "tickColor": "black", "grid": false, "title": null}},
           "text": {"value": "Trial 50"}}}
      ]
    },
    {
      "width": 1016, "height": 227,
      "resolve": {"axis": {"x": "independent"}, "scale": {"strokeDash": "independent"}},
      "layer": [
        {"data": {"values": [{}]},
         "mark": {"type": "rule", "color": "black", "strokeWidth": 1},
         "encoding": {"y": {"datum": 0, "type": "quantitative", "scale": {"domain": [-0.95, 2.99]},
           "axis": {"values": [0, 1, 2], "tickSize": 10, "labels": false, "domain": true, "domainColor": "black", "tickColor": "black", "grid": false, "title": null}}}},
        {"data": {"name": "pred"},
         "mark": {"type": "line", "color": "#b3302c", "strokeWidth": 1.1},
         "encoding": {
           "x": {"field": "x", "type": "quantitative", "scale": {"domain": [-4.05, 104.88], "nice": false, "zero": false},
             "axis": {"orient": "bottom", "values": [0, 20, 40, 60, 80, 100], "tickSize": 12, "labelPadding": 13, "labelFont": "DejaVu Sans", "labelFontSize": 15, "labelColor": "#222", "labelFlush": false, "labelOverlap": false, "domain": true, "domainColor": "black", "tickColor": "black", "grid": false, "title": null}},
           "y": {"field": "y", "type": "quantitative", "scale": {"domain": [-0.95, 2.99]},
             "axis": {"values": [0, 1, 2], "tickSize": 10, "labels": false, "domain": true, "domainColor": "black", "tickColor": "black", "grid": false, "title": null}},
           "detail": {"field": "cond"}}},
        {"data": {"name": "obs"}, "transform": [{"filter": "datum.trial == 70"}],
         "mark": {"type": "line", "color": "black", "strokeWidth": 2.6},
         "encoding": {
           "x": {"field": "x", "type": "quantitative", "scale": {"domain": [-4.05, 104.88], "nice": false, "zero": false},
             "axis": {"orient": "top", "ticks": false, "labels": false, "domain": true, "domainColor": "black", "grid": false, "title": null}},
           "y": {"field": "y", "type": "quantitative", "scale": {"domain": [-0.95, 2.99]},
             "axis": {"values": [0, 1, 2], "tickSize": 10, "labels": false, "domain": true, "domainColor": "black", "tickColor": "black", "grid": false, "title": null}},
           "strokeDash": {"field": "line", "type": "nominal", "scale": {"domain": ["U", "L"], "range": [[10, 4, 2, 4, 2, 4], [10, 4, 2, 4]]}, "legend": null}}},
        {"data": {"name": "bars"}, "transform": [{"filter": "datum.trial == 70"}],
         "layer": [
           {"mark": {"type": "rule", "color": "black", "strokeWidth": 1},
            "encoding": {"y": {"field": "lo"}, "y2": {"field": "hi"}}},
           {"mark": {"type": "point", "shape": "stroke", "size": 484, "color": "black", "strokeWidth": 1, "filled": false, "opacity": 1},
            "encoding": {"y": {"field": "lo"}}},
           {"mark": {"type": "point", "shape": "stroke", "size": 484, "color": "black", "strokeWidth": 1, "filled": false, "opacity": 1},
            "encoding": {"y": {"field": "hi"}}}
         ],
         "encoding": {
           "x": {"field": "x", "type": "quantitative", "scale": {"domain": [-4.05, 104.88], "nice": false, "zero": false}, "axis": null},
           "y": {"type": "quantitative", "scale": {"domain": [-0.95, 2.99]},
             "axis": {"values": [0, 1, 2], "tickSize": 10, "labels": false, "domain": true, "domainColor": "black", "tickColor": "black", "grid": false, "title": null}},
           "strokeDash": {"field": "cond", "type": "nominal", "scale": {"domain": ["A", "B"], "range": [[1, 0], [3, 3]]}, "legend": null}}},
        {"data": {"name": "bars"}, "transform": [{"filter": "datum.trial == 70"}],
         "mark": {"type": "point", "size": 40, "color": "black", "strokeWidth": 1, "filled": false, "opacity": 1},
         "encoding": {
           "x": {"field": "x", "type": "quantitative", "scale": {"domain": [-4.05, 104.88], "nice": false, "zero": false}, "axis": null},
           "y": {"field": "mean", "type": "quantitative", "scale": {"domain": [-0.95, 2.99]},
             "axis": {"values": [0, 1, 2], "tickSize": 10, "labels": false, "domain": true, "domainColor": "black", "tickColor": "black", "grid": false, "title": null}}}},
        {"data": {"values": [{}]},
         "mark": {"type": "text", "font": "Liberation Sans", "fontSize": 32.5, "align": "center", "baseline": "alphabetic", "color": "black"},
         "encoding": {
           "x": {"datum": 10, "type": "quantitative", "scale": {"domain": [-4.05, 104.88], "nice": false, "zero": false}, "axis": null},
           "y": {"datum": 2.26, "type": "quantitative", "scale": {"domain": [-0.95, 2.99]},
             "axis": {"values": [0, 1, 2], "tickSize": 10, "labels": false, "domain": true, "domainColor": "black", "tickColor": "black", "grid": false, "title": null}},
           "text": {"value": "Trial 70"}}}
      ]
    },
    {
      "width": 1016, "height": 227,
      "resolve": {"axis": {"x": "independent"}, "scale": {"strokeDash": "independent"}},
      "layer": [
        {"data": {"values": [{}]},
         "mark": {"type": "rule", "color": "black", "strokeWidth": 1},
         "encoding": {"y": {"datum": 0, "type": "quantitative", "scale": {"domain": [-0.95, 2.99]},
           "axis": {"values": [0, 1, 2], "tickSize": 10, "labels": false, "domain": true, "domainColor": "black", "tickColor": "black", "grid": false, "title": null}}}},
        {"data": {"name": "pred"},
         "mark": {"type": "line", "color": "#b3302c", "strokeWidth": 1.1},
         "encoding": {
           "x": {"field": "x", "type": "quantitative", "scale": {"domain": [-4.05, 104.88], "nice": false, "zero": false},
             "axis": {"orient": "bottom", "values": [0, 20, 40, 60, 80, 100], "tickSize": 5, "labels": false, "domain": true, "domainColor": "black", "tickColor": "black", "grid": false, "title": null}},
           "y": {"field": "y", "type": "quantitative", "scale": {"domain": [-0.95, 2.99]},
             "axis": {"values": [0, 1, 2], "tickSize": 10, "labels": false, "domain": true, "domainColor": "black", "tickColor": "black", "grid": false, "title": null}},
           "detail": {"field": "cond"}}},
        {"data": {"name": "obs"}, "transform": [{"filter": "datum.trial == 100"}],
         "mark": {"type": "line", "color": "black", "strokeWidth": 2.6},
         "encoding": {
           "x": {"field": "x", "type": "quantitative", "scale": {"domain": [-4.05, 104.88], "nice": false, "zero": false},
             "axis": {"orient": "top", "ticks": false, "labels": false, "domain": true, "domainColor": "black", "grid": false, "title": null}},
           "y": {"field": "y", "type": "quantitative", "scale": {"domain": [-0.95, 2.99]},
             "axis": {"values": [0, 1, 2], "tickSize": 10, "labels": false, "domain": true, "domainColor": "black", "tickColor": "black", "grid": false, "title": null}},
           "strokeDash": {"field": "line", "type": "nominal", "scale": {"domain": ["U", "L"], "range": [[10, 4, 2, 4, 2, 4], [10, 4, 2, 4]]}, "legend": null}}},
        {"data": {"name": "bars"}, "transform": [{"filter": "datum.trial == 100"}],
         "layer": [
           {"mark": {"type": "rule", "color": "black", "strokeWidth": 1},
            "encoding": {"y": {"field": "lo"}, "y2": {"field": "hi"}}},
           {"mark": {"type": "point", "shape": "stroke", "size": 484, "color": "black", "strokeWidth": 1, "filled": false, "opacity": 1},
            "encoding": {"y": {"field": "lo"}}},
           {"mark": {"type": "point", "shape": "stroke", "size": 484, "color": "black", "strokeWidth": 1, "filled": false, "opacity": 1},
            "encoding": {"y": {"field": "hi"}}}
         ],
         "encoding": {
           "x": {"field": "x", "type": "quantitative", "scale": {"domain": [-4.05, 104.88], "nice": false, "zero": false}, "axis": null},
           "y": {"type": "quantitative", "scale": {"domain": [-0.95, 2.99]},
             "axis": {"values": [0, 1, 2], "tickSize": 10, "labels": false, "domain": true, "domainColor": "black", "tickColor": "black", "grid": false, "title": null}},
           "strokeDash": {"field": "cond", "type": "nominal", "scale": {"domain": ["A", "B"], "range": [[1, 0], [3, 3]]}, "legend": null}}},
        {"data": {"name": "bars"}, "transform": [{"filter": "datum.trial == 100"}],
         "mark": {"type": "point", "size": 40, "color": "black", "strokeWidth": 1, "filled": false, "opacity": 1},
         "encoding": {
           "x": {"field": "x", "type": "quantitative", "scale": {"domain": [-4.05, 104.88], "nice": false, "zero": false}, "axis": null},
           "y": {"field": "mean", "type": "quantitative", "scale": {"domain": [-0.95, 2.99]},
             "axis": {"values": [0, 1, 2], "tickSize": 10, "labels": false, "domain": true, "domainColor": "black", "tickColor": "black", "grid": false, "title": null}}}},
        {"data": {"values": [{}]},
         "mark": {"type": "text", "font": "Liberation Sans", "fontSize": 32.5, "align": "center", "baseline": "alphabetic", "color": "black"},
         "encoding": {
           "x": {"datum": 10, "type": "quantitative", "scale": {"domain": [-4.05, 104.88], "nice": false, "zero": false}, "axis": null},
           "y": {"datum": 2.26, "type": "quantitative", "scale": {"domain": [-0.95, 2.99]},
             "axis": {"values": [0, 1, 2], "tickSize": 10, "labels": false, "domain": true, "domainColor": "black", "tickColor": "black", "grid": false, "title": null}},
           "text": {"value": "Trial 100"}}}
      ]
    }
  ],
  "spacing": 40,
  "bounds": "flush"
}
